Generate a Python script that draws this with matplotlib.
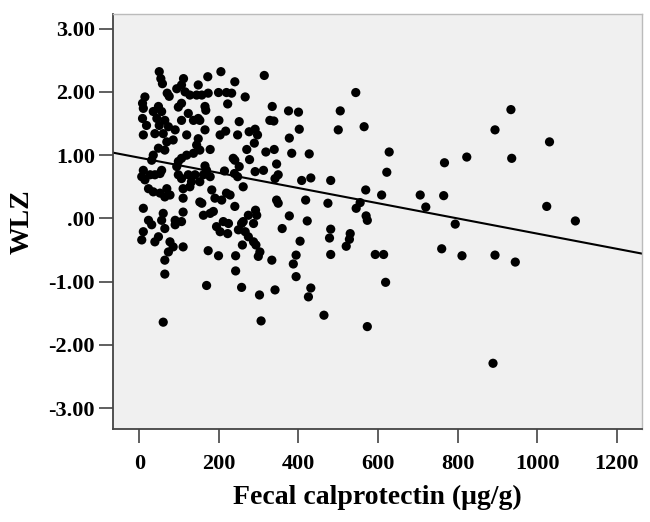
import numpy as np
import matplotlib
matplotlib.use("Agg")
import matplotlib.pyplot as plt
from matplotlib.ticker import FuncFormatter

# points (fecal calprotectin ug/g, WLZ)
fc_left = [50, 54, 58, 111, 106, 94, 70, 75, 115, 127, 14, 8, 10, 35, 48, 56, 44, 64,
           50, 18, 8, 10, 39, 60, 73, 90, 85, 69, 119, 106, 98, 106, 123, 136, 48, 64,
           35, 31, 98, 106, 119, 136, 10, 6, 14, 27, 39, 52, 56, 94, 98, 106, 123, 131,
           140, 127, 110, 23, 35, 52, 69, 64, 77, 110, 10, 23, 31, 56, 60, 90, 106, 110,
           90, 64, 10, 6, 39, 48, 77, 85, 73, 110, 64, 64, 60]
wlz_left = [2.32, 2.21, 2.13, 2.21, 2.11, 2.05, 1.98, 1.93, 2.00, 1.95, 1.92, 1.82, 1.74,
            1.69, 1.77, 1.69, 1.58, 1.55, 1.47, 1.47, 1.58, 1.32, 1.34, 1.34, 1.45, 1.40,
            1.24, 1.21, 1.32, 1.55, 1.76, 1.82, 1.66, 1.55, 1.11, 1.08, 1.00, 0.92, 0.90,
            0.95, 1.00, 1.03, 0.76, 0.66, 0.61, 0.69, 0.69, 0.71, 0.76, 0.82, 0.69, 0.63,
            0.69, 0.58, 0.69, 0.50, 0.47, 0.47, 0.42, 0.40, 0.47, 0.34, 0.37, 0.32, 0.16,
            -0.03, -0.10, -0.03, 0.08, -0.03, -0.05, 0.10, -0.10, -0.16, -0.21, -0.34,
            -0.37, -0.29, -0.37, -0.45, -0.53, -0.45, -0.66, -0.88, -1.64]

fc_mid = [172, 205, 240, 314, 148, 144, 157, 173, 199, 219, 232, 266, 222, 165, 167, 148,
          152, 200, 251, 334, 328, 338, 165, 203, 217, 247, 276, 291, 297, 289, 148, 144,
          152, 178, 270, 318, 339, 236, 240, 277, 251, 345, 165, 169, 161, 178, 214, 239,
          247, 291, 312, 349, 341, 261, 152, 182, 219, 228, 190, 207, 152, 157, 240, 345,
          349, 292, 295, 274, 261, 257, 287, 161, 178, 186, 211, 224, 194, 203, 222, 249,
          266, 274, 287, 293, 259, 303, 299, 333, 173, 199, 242, 242, 169, 257, 302, 341,
          359, 306]
wlz_mid = [2.24, 2.32, 2.16, 2.26, 2.11, 1.95, 1.95, 1.98, 1.99, 1.99, 1.98, 1.92, 1.81,
           1.77, 1.71, 1.58, 1.55, 1.55, 1.53, 1.77, 1.55, 1.54, 1.40, 1.32, 1.38, 1.32,
           1.37, 1.41, 1.32, 1.19, 1.26, 1.16, 1.08, 1.09, 1.09, 1.05, 1.09, 0.95, 0.92,
           0.93, 0.82, 0.86, 0.83, 0.76, 0.69, 0.66, 0.75, 0.71, 0.66, 0.74, 0.76, 0.69,
           0.63, 0.50, 0.58, 0.45, 0.40, 0.37, 0.32, 0.29, 0.26, 0.24, 0.19, 0.29, 0.24,
           0.13, 0.05, 0.05, -0.05, -0.08, -0.08, 0.05, 0.08, 0.11, -0.05, -0.08, -0.13,
           -0.21, -0.24, -0.18, -0.21, -0.29, -0.37, -0.42, -0.42, -0.53, -0.60, -0.66,
           -0.51, -0.59, -0.59, -0.83, -1.06, -1.09, -1.21, -1.13, -0.16, -1.62]

fc_right = [544, 375, 400, 505, 402, 377, 500, 565, 383, 427, 628, 622, 767, 408, 431, 481,
            569, 609, 706, 765, 720, 418, 474, 555, 545, 570, 573, 377, 422, 481, 478, 530,
            528, 520, 404, 394, 387, 394, 481, 593, 614, 760, 619, 431, 425, 464, 573, 934,
            894, 1031, 823, 936, 1024, 1096, 794, 811, 894, 945, 889]
wlz_right = [1.99, 1.70, 1.68, 1.70, 1.41, 1.27, 1.40, 1.45, 1.03, 1.02, 1.05, 0.73, 0.88,
             0.60, 0.64, 0.60, 0.45, 0.37, 0.37, 0.36, 0.18, 0.29, 0.24, 0.25, 0.16, 0.04,
             -0.03, 0.04, -0.04, -0.17, -0.31, -0.24, -0.33, -0.44, -0.36, -0.58, -0.72,
             -0.92, -0.57, -0.57, -0.57, -0.48, -1.01, -1.10, -1.24, -1.53, -1.71, 1.72,
             1.40, 1.21, 0.97, 0.95, 0.19, -0.04, -0.09, -0.59, -0.58, -0.69, -2.29]

fit_intercept = 0.96
fit_slope = -0.0012

x_ticks = [0, 200, 400, 600, 800, 1000, 1200]
y_ticks = [-3, -2, -1, 0, 1, 2, 3]

fc = np.array(fc_left + fc_mid + fc_right, dtype=float)
wlz = np.array(wlz_left + wlz_mid + wlz_right, dtype=float)

plt.rcParams["font.family"] = ["Liberation Serif", "DejaVu Serif"]
plt.rcParams["font.weight"] = "bold"

fig = plt.figure(figsize=(6.5, 5.22), dpi=100)
ax = fig.add_axes([0.174, 0.178, 0.814, 0.795])
ax.set_facecolor("#f0f0f0")

ax.scatter(fc, wlz, s=44, color="black", edgecolors="none", zorder=3)

xlim = (-66, 1264)
xs = np.array(xlim)
ax.plot(xs, fit_intercept + fit_slope * xs, color="black", lw=1.5, zorder=2)

ax.set_xlim(*xlim)
ax.set_ylim(-3.33, 3.23)
ax.set_xticks(x_ticks)
ax.set_yticks(y_ticks)
ax.yaxis.set_major_formatter(FuncFormatter(lambda v, p: ".00" if v == 0 else f"{v:.2f}"))
ax.tick_params(direction="out", length=10, width=1.2, color="#444444", labelsize=16)
ax.tick_params(axis="x", pad=8)
ax.tick_params(axis="y", pad=3)
for lbl in ax.get_xticklabels() + ax.get_yticklabels():
    lbl.set_fontweight("bold")

for side in ["left", "bottom"]:
    ax.spines[side].set_color("#444444")
    ax.spines[side].set_linewidth(1.3)
for side in ["top", "right"]:
    ax.spines[side].set_color("#bbbbbb")
    ax.spines[side].set_linewidth(1.0)

ax.set_xlabel("Fecal calprotectin (μg/g)", fontsize=20, fontweight="bold", labelpad=8)
ax.set_ylabel("WLZ", fontsize=20, fontweight="bold", labelpad=10)

fig.savefig("out.png", dpi=100)
